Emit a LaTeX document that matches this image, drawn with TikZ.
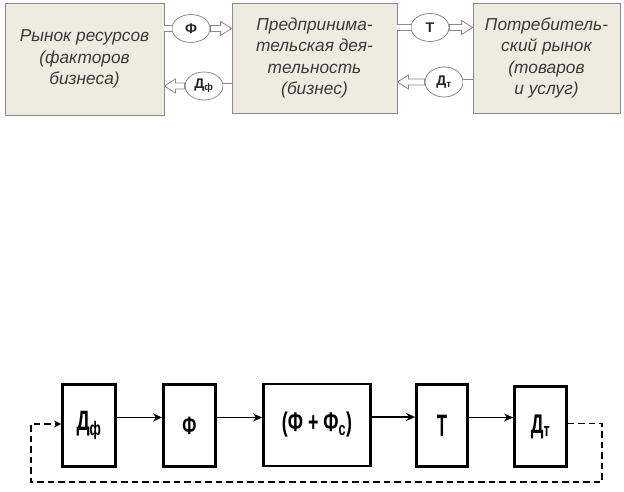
\documentclass[tikz,border=0pt]{standalone}
\usepackage{fontspec}
\setmainfont{Liberation Sans}
\newfontfamily\narrowbold[FakeStretch=0.66]{Liberation Sans Bold}
\usetikzlibrary{calc,arrows,arrows.meta,positioning,shapes.geometric}
\definecolor{boxfill}{HTML}{EEECE1}
\definecolor{boxline}{HTML}{8A8A8A}
\definecolor{boxtext}{HTML}{3A3A3A}
\tikzset{
  topbox/.style={draw=boxline, fill=boxfill, line width=0.8pt, align=center, inner sep=0pt,
   font=\fontsize{17.3}{21.5}\selectfont\itshape, text=boxtext},
  flowell/.style={ellipse, draw=boxline, fill=white, line width=0.8pt, minimum width=38pt,
   minimum height=28pt, inner sep=0pt, font=\fontsize{14}{14}\selectfont\bfseries, text=black!85},
  stub/.style={draw=boxline, double=white, double distance=5pt, line width=0.8pt}, % short double line
  arrowline/.style={draw=boxline, fill=white, line width=0.8pt},
  hollow arrow/.style n args={2}{
   insert path={
   let \p1 = (#1), \p2 = (#2), % start and tip
    \n1 = {ifthenelse(\x2>\x1,-11,11)} in % head length, sign by direction
   (\x1,\y1+3pt) -- (\x2+\n1,\y1+3pt) -- (\x2+\n1,\y1+7pt) -- (\x2,\y1)
   -- (\x2+\n1,\y1-7pt) -- (\x2+\n1,\y1-3pt) -- (\x1,\y1-3pt) -- cycle
   }
  },
  blockbox/.style={draw, line width=2.8pt, minimum height=82pt, inner sep=0pt},
  flow/.style={-{Stealth[length=9pt,width=8pt]}, line width=1.3pt},
  back/.style={-{Stealth[length=7pt,width=7pt]}, line width=1.4pt, dash pattern=on 6.5pt off 4pt}
}
\begin{document}
\begin{tikzpicture}[x=1pt,y=-1pt]
\useasboundingbox (0,0) rectangle (624,491);
% markets and business
\node[topbox, minimum width=159pt, minimum height=112pt] (res) at (84.5,59)
 {Рынок ресурсов\\(факторов\\бизнеса)};
\node[topbox, minimum width=165pt, minimum height=110pt] (biz) at (314.5,58)
 {Предпринима-\\тельская дея-\\тельность\\(бизнес)};
\node[topbox, minimum width=147pt, minimum height=110pt] (potr) at (546.5,58)
 {Потребитель-\\ский рынок\\(товаров\\и услуг)};
\node[flowell] (F) at (191,28.5) {Ф};
\node[flowell] (DF) at (204,86) {Д\textsubscript{ф}};
\node[flowell] (T) at (430,27.5) {Т};
\node[flowell, minimum height=30pt] (DT) at (444,82) {Д\textsubscript{т}};
\draw[stub] (res.east |- F.west) -- (F.west);
\draw[arrowline, hollow arrow={F.east}{F.east -| biz.west}];
\draw[stub] (biz.west |- DF.east) -- (DF.east);
\draw[arrowline, hollow arrow={DF.west}{DF.west -| res.east}];
\draw[stub] (biz.east |- T.west) -- (T.west);
\draw[arrowline, hollow arrow={T.east}{T.east -| potr.west}];
\draw[stub] (potr.west |- DT.east) -- (DT.east);
\draw[arrowline, hollow arrow={DT.west}{DT.west -| biz.east}];
% chain
\node[blockbox, minimum width=53pt, font=\narrowbold\fontsize{28}{28}\selectfont] (bDF) at (89,425.5) {Д\textsubscript{ф}};
\node[blockbox, minimum width=52pt, font=\narrowbold\fontsize{25}{25}\selectfont] (bF) at (189.5,425.5) {Ф};
\node[blockbox, minimum width=107pt, font=\narrowbold\fontsize{27}{27}\selectfont] (bFF) at (317,425) {(Ф + Ф\textsubscript{с})};
\node[blockbox, minimum width=51pt, font=\narrowbold\fontsize{31}{31}\selectfont] (bT) at (442,425.5) {\scalebox{0.82}[1]{Т}};
\node[blockbox, minimum width=52pt, minimum height=80pt, font=\narrowbold\fontsize{27}{27}\selectfont] (bDT) at (540.5,426.5) {Д\textsubscript{т}};
\draw[flow] ([yshift=8pt]bDF.east) -- ([yshift=8pt]bDF.east -| bF.west);
\draw[flow] ([yshift=8pt]bF.east) -- ([yshift=8pt]bF.east -| bFF.west);
\draw[flow] ([yshift=8pt]bFF.east) -- ([yshift=8pt]bFF.east -| bT.west);
\draw[flow] ([yshift=8pt]bT.east) -- ([yshift=8pt]bT.east -| bDT.west);
\coordinate (rt) at (602,482);
\coordinate (lt) at (31,482);
\draw[back] ([yshift=3pt]bDT.east) -| (rt) -- (lt) |- ([yshift=1.5pt]bDF.west);
\end{tikzpicture}
\end{document}
